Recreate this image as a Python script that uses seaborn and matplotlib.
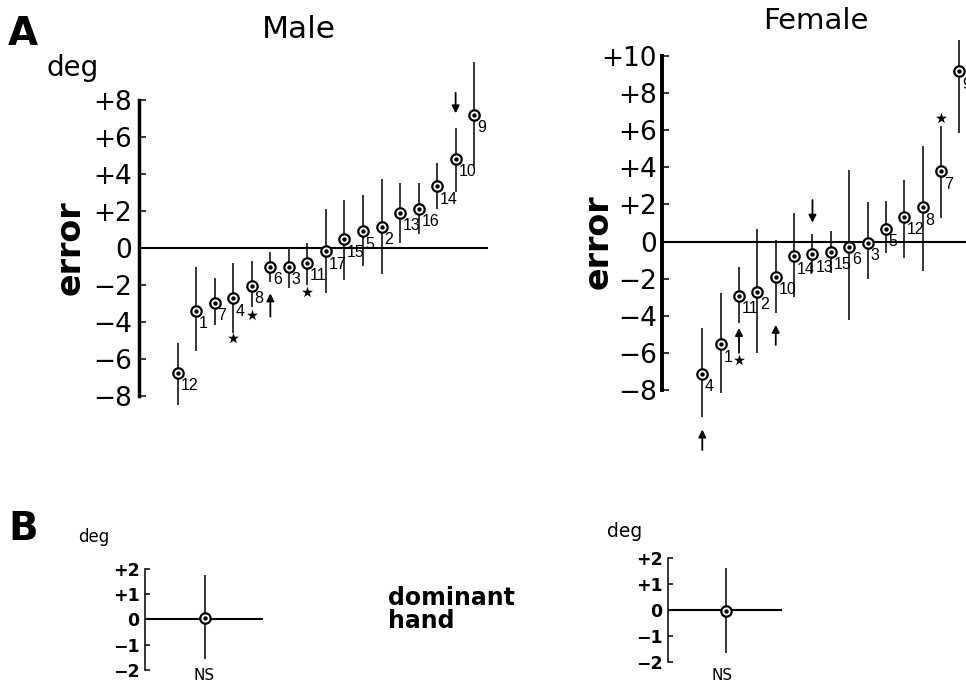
import matplotlib
matplotlib.use("Agg")
import matplotlib.pyplot as plt
import numpy as np
import pandas as pd
import seaborn as sns

# ---- panel A, male subjects (sorted by mean pointing error, deg) ----
male_ids = [12, 1, 7, 4, 8, 6, 3, 11, 17, 15, 5, 2, 13, 16, 14, 10, 9]
male_mean = [-6.74, -3.39, -2.96, -2.72, -2.04, -1.01, -1.01, -0.79, -0.16,
             0.49, 0.92, 1.15, 1.91, 2.12, 3.35, 4.83, 7.20]
male_hi = [-5.14, -1.01, -1.62, -0.83, -0.70, -0.20, 0.07, 0.25, 2.09,
           2.59, 2.86, 3.73, 3.50, 3.50, 4.61, 6.50, 10.05]
male_lo = [-8.50, -5.55, -4.16, -4.60, -3.17, -1.82, -2.18, -2.00, -2.41,
           -1.73, -0.97, -1.41, 0.25, 0.76, 2.09, 3.04, 4.43]
male_stars = [(4, -4.86), (8, -3.60), (11, -2.36)]
male_arrows = [(6, -3.71, -2.45), (10, 8.39, 7.28)]  # subject, tail, head

# ---- panel A, female subjects ----
female_ids = [4, 1, 11, 2, 10, 14, 13, 15, 6, 3, 5, 12, 8, 7, 9]
female_mean = [-7.11, -5.50, -2.90, -2.69, -1.88, -0.77, -0.68, -0.53, -0.27,
               -0.05, 0.70, 1.34, 1.84, 3.78, 9.18]
female_hi = [-4.66, -2.74, -1.34, 0.68, 0.09, 1.52, 0.41, 0.57, 3.87,
             2.14, 2.19, 3.34, 5.17, 6.24, 10.84]
female_lo = [-9.40, -8.15, -4.39, -6.00, -3.85, -2.95, -1.70, -1.70, -4.19,
             -2.02, -0.63, -0.89, -1.60, 1.25, 5.83]
female_stars = [(11, -6.35), (7, 6.63)]
female_arrows = [(4, -11.2, -10.1), (11, -5.98, -4.64), (10, -5.55, -4.47),
                 (13, 2.24, 1.02)]

# ---- panel B, dominant hand (group mean with range) ----
dom_male = dict(mean=0.06, lo=-1.57, hi=1.74)
dom_female = dict(mean=-0.03, lo=-1.67, hi=1.63)

ticks_a_male = [8, 6, 4, 2, 0, -2, -4, -6, -8]
ticks_a_female = [10, 8, 6, 4, 2, 0, -2, -4, -6, -8]
ticks_b = [2, 1, 0, -1, -2]


def signed(v):
    if v > 0:
        return f"+{v}"
    if v < 0:
        return f"\u2212{abs(v)}"
    return "0"


sns.set_style("white")
plt.rcParams["font.family"] = ["DejaVu Sans"]
for key in ("text.color", "axes.labelcolor", "xtick.color", "ytick.color"):
    plt.rcParams[key] = "black"

W, H = 966, 683
fig = plt.figure(figsize=(W / 100, H / 100), dpi=100)


def px_axes(left, top, right, bottom):
    ax = fig.add_axes([left / W, 1 - bottom / H, (right - left) / W, (bottom - top) / H])
    ax.patch.set_visible(False)
    return ax


def ftext(x, y, s, **kw):
    fig.text(x / W, 1 - y / H, s, **kw)


def style_axis(ax, ticks, bounds, spine_w, tick_len, pad, fs, weight="normal"):
    for side in ("top", "right", "bottom"):
        ax.spines[side].set_visible(False)
    ax.spines["left"].set_linewidth(spine_w)
    ax.spines["left"].set_color("black")
    ax.spines["left"].set_bounds(*bounds)
    ax.set_xticks([])
    ax.set_yticks(ticks)
    ax.set_yticklabels([signed(t) for t in ticks], fontsize=fs, fontweight=weight)
    ax.tick_params(axis="y", direction="in", length=tick_len, width=1.1,
                   pad=pad, left=True, colors="black")
    ax.set_xlabel("")
    ax.set_ylabel("")
    ax.axhline(0, color="black", lw=1.5, zorder=1)


def draw_points(ax, df, label=True):
    ax.vlines(df["pos"], df["lo"], df["hi"], color="black", lw=1.1, zorder=2)
    sns.scatterplot(data=df, x="pos", y="mean", ax=ax, s=56, color="white",
                    edgecolor="black", linewidth=1.6, zorder=3, legend=False)
    sns.scatterplot(data=df, x="pos", y="mean", ax=ax, s=10, color="black",
                    linewidth=0, zorder=4, legend=False)
    if label:
        for sid, p, m in zip(df["id"], df["pos"], df["mean"]):
            ax.annotate(str(int(sid)), (p, m), xytext=(2, -4),
                        textcoords="offset points", ha="left", va="top",
                        fontsize=11.5, family="Liberation Sans", zorder=5)


def draw_marks(ax, ids, stars, arrows):
    pos = {sid: i for i, sid in enumerate(ids)}
    sx = [pos[s] for s, _ in stars]
    sy = [y for _, y in stars]
    ax.scatter(sx, sy, marker="*", s=70, color="black", linewidth=0, zorder=5)
    for sid, tail, head in arrows:
        ax.annotate("", xy=(pos[sid], head), xytext=(pos[sid], tail),
                    arrowprops=dict(arrowstyle="-|>", lw=1.3, color="black",
                                    mutation_scale=11, shrinkA=0, shrinkB=0),
                    zorder=5)


# ---- male panel ----
df_m = pd.DataFrame(dict(id=male_ids, mean=male_mean, lo=male_lo, hi=male_hi))
df_m["pos"] = np.arange(len(df_m))
ax_m = px_axes(139, 57.5, 488.4, 410.8)
draw_points(ax_m, df_m)
draw_marks(ax_m, male_ids, male_stars, male_arrows)
ax_m.set_xlim(-2.09, 16.77)
ax_m.set_ylim(-8.8, 10.3)
style_axis(ax_m, ticks_a_male, (-8, 8), 2.5, 5, 5, 19)

# ---- female panel ----
df_f = pd.DataFrame(dict(id=female_ids, mean=female_mean, lo=female_lo, hi=female_hi))
df_f["pos"] = np.arange(len(df_f))
ax_f = px_axes(661.7, 33.4, 966, 453.7)
draw_points(ax_f, df_f)
draw_marks(ax_f, female_ids, female_stars, female_arrows)
ax_f.set_xlim(-2.21, 14.36)
ax_f.set_ylim(-11.4, 11.2)
style_axis(ax_f, ticks_a_female, (-8, 10), 2.8, 5, 3.5, 19)

# ---- panel B ----
for d, box in ((dom_male, (145, 560.9, 263, 677.7)),
               (dom_female, (668.3, 550.2, 782, 669.8))):
    ax = px_axes(*box)
    dfd = pd.DataFrame(dict(id=[0], mean=[d["mean"]], lo=[d["lo"]], hi=[d["hi"]]))
    dfd["pos"] = [0.51]
    draw_points(ax, dfd, label=False)
    ax.set_xlim(0, 1)
    ax.set_ylim(-2.3, 2.3)
    style_axis(ax, ticks_b, (-2, 2), 1.1, 3.5, 4, 12.5, weight="bold")

# ---- text ----
ftext(8, 45, "A", fontsize=28, fontweight="bold", ha="left", va="baseline")
ftext(8, 540, "B", fontsize=28, fontweight="bold", ha="left", va="baseline")
ftext(299, 38, "Male", fontsize=22.5, ha="center", va="baseline")
ftext(816, 29, "Female", fontsize=21, ha="center", va="baseline")
ftext(47, 76, "deg", fontsize=20, ha="left", va="baseline")
ftext(70, 248, "error", fontsize=24, fontweight="bold", rotation=90,
      ha="center", va="center")
ftext(598, 242, "error", fontsize=24, fontweight="bold", rotation=90,
      ha="center", va="center")
ftext(78, 542, "deg", fontsize=12, ha="left", va="baseline")
ftext(607, 537, "deg", fontsize=13.5, ha="left", va="baseline")
ftext(388, 605, "dominant", fontsize=17, fontweight="bold", ha="left", va="baseline")
ftext(388, 628, "hand", fontsize=17, fontweight="bold", ha="left", va="baseline")
ftext(204, 680, "NS", fontsize=11, ha="center", va="baseline")
ftext(722, 680, "NS", fontsize=11, ha="center", va="baseline")

fig.savefig("out.png", dpi=100)
